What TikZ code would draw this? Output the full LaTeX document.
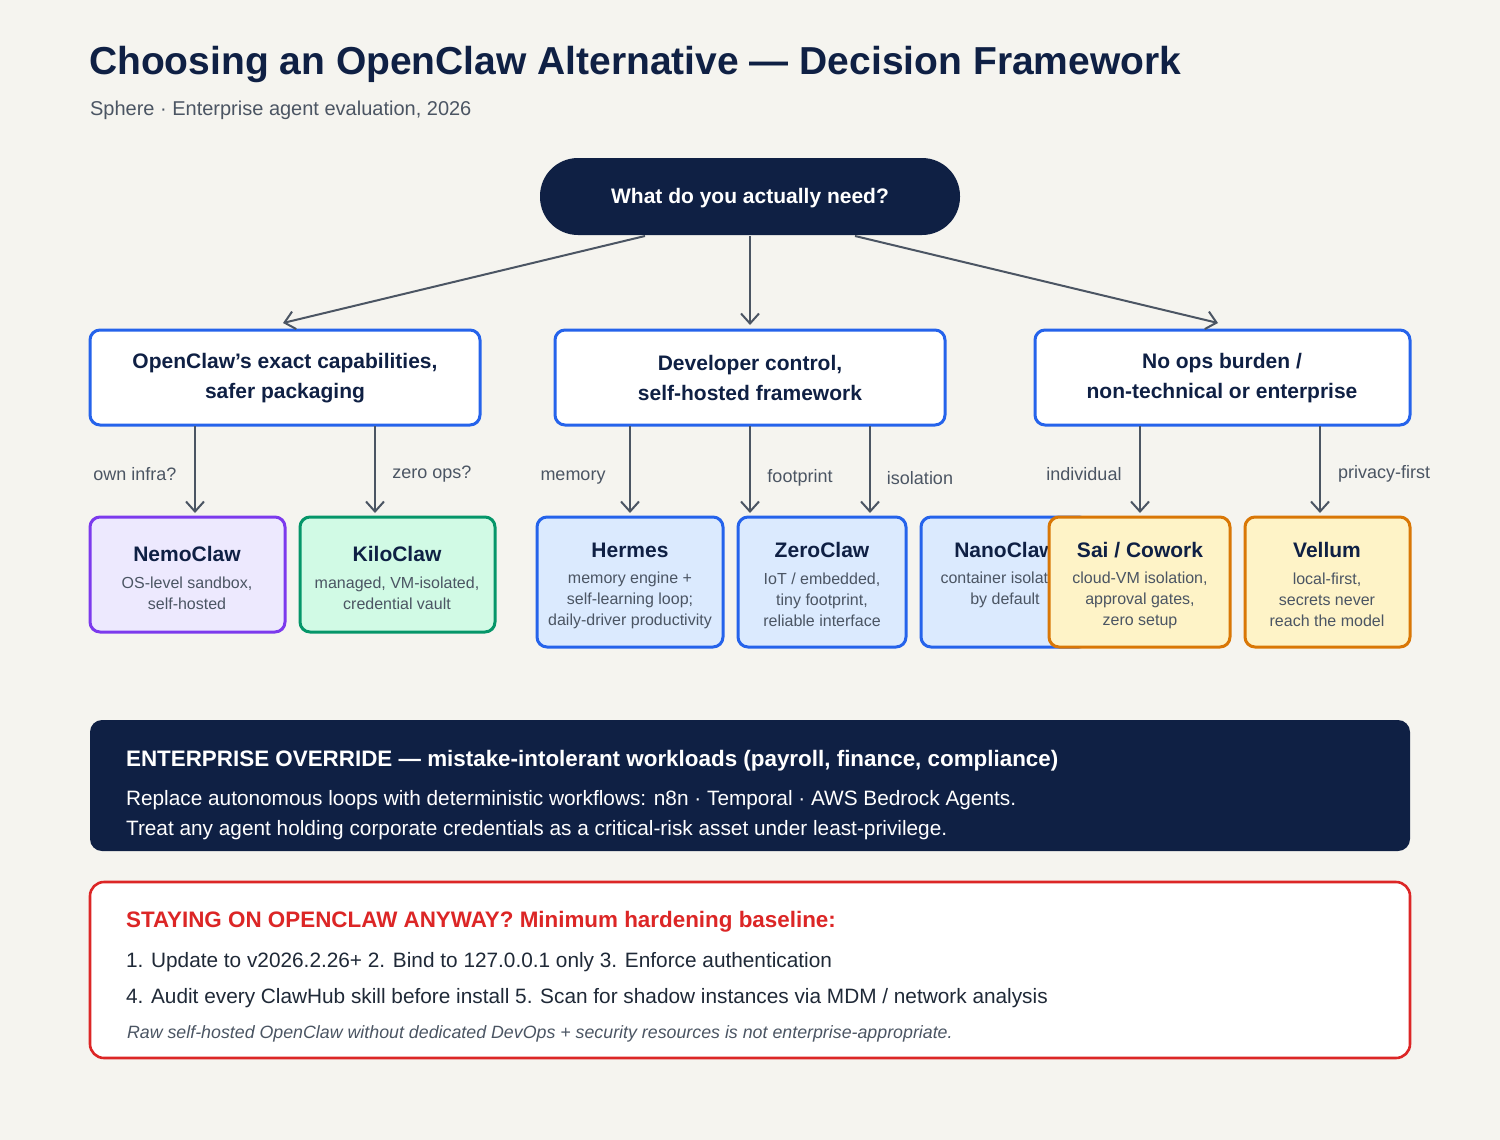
\documentclass[tikz,border=0pt]{standalone}
\usepackage{fontspec}
\setmainfont{Liberation Sans}
\usetikzlibrary{arrows.meta}
\definecolor{bg}{HTML}{F5F4EF}
\definecolor{navy}{HTML}{0F2044}
\definecolor{bblue}{HTML}{2563EB}
\definecolor{fblue}{HTML}{DBEAFE}
\definecolor{bpur}{HTML}{7C3AED}
\definecolor{fpur}{HTML}{EDE9FE}
\definecolor{bgrn}{HTML}{059669}
\definecolor{fgrn}{HTML}{D1FAE5}
\definecolor{bora}{HTML}{D97706}
\definecolor{fora}{HTML}{FEF3C7}
\definecolor{arr}{HTML}{4B5563}
\definecolor{sub}{HTML}{4B5563}
\definecolor{red}{HTML}{DC2626}
\definecolor{txt}{HTML}{1F2937}
\begin{document}
\begin{tikzpicture}[x=0.5pt,y=-0.5pt,
 box/.style={draw=bblue,line width=1.5pt,rounded corners=5pt,fill=white},
 leaf/.style={line width=1.5pt,rounded corners=5pt},
 ar/.style={draw=arr,line width=1pt,-{Straight Barb[length=5pt,width=9pt]}},
 lab/.style={font=\fontsize{9}{11}\selectfont,text=sub},
 mt/.style={font=\fontsize{10.5}{15}\selectfont\bfseries,text=navy,align=center},
 lt/.style={font=\fontsize{10.5}{13}\selectfont\bfseries,text=navy},
 ls/.style={font=\fontsize{8}{10.5}\selectfont,text=sub,align=center}]
\fill[bg] (0,0) rectangle (1500,1140);
\node[anchor=west,font=\fontsize{19.5}{22}\selectfont\bfseries,text=navy] (title) at (82,65) {Choosing an OpenClaw Alternative — Decision Framework};
\node[anchor=west,font=\fontsize{10}{12}\selectfont,text=sub] (subt) at (83,110) {Sphere · Enterprise agent evaluation, 2026};
\fill[navy,rounded corners=19pt] (540,158) rectangle (960,235);
\node[font=\fontsize{10.5}{12}\selectfont\bfseries,text=white] (top) at (750,198) {What do you actually need?};
\coordinate (t1) at (645,236); \coordinate (t2) at (750,236); \coordinate (t3) at (855,236);
% mid boxes
\draw[box] (90,330) rectangle (480,425);
\node[mt] (ma) at (285,378) {OpenClaw’s exact capabilities,\\safer packaging};
\draw[box] (555,330) rectangle (945,425);
\node[mt] (mb) at (750,378) {Developer control,\\self-hosted framework};
\draw[box] (1035,330) rectangle (1410,425);
\node[mt] (mc) at (1222,378) {No ops burden /\\non-technical or enterprise};
\coordinate (a1) at (283,323); \coordinate (b1) at (750,325); \coordinate (c1) at (1218,323);
\draw[ar] (t1) -- (a1); \draw[ar] (t2) -- (b1); \draw[ar] (t3) -- (c1);
% leaves
\draw[leaf,draw=bpur,fill=fpur] (90,517) rectangle (285,632);
\node[lt] (nemo) at (187,554) {NemoClaw};
\node[ls] (nemos) at (187,593) {OS-level sandbox,\\self-hosted};
\draw[leaf,draw=bgrn,fill=fgrn] (300,517) rectangle (495,632);
\node[lt] (kilo) at (397,554) {KiloClaw};
\node[ls] (kilos) at (397,593) {managed, VM-isolated,\\credential vault};
\draw[leaf,draw=bblue,fill=fblue] (537,517) rectangle (723,647);
\node[lt] (herm) at (630,550) {Hermes};
\node[ls] (herms) at (630,600) {memory engine +\\self-learning loop;\\daily-driver productivity};
\draw[leaf,draw=bblue,fill=fblue] (738,517) rectangle (906,647);
\node[lt] (zero) at (822,550) {ZeroClaw};
\node[ls] (zeros) at (822,600) {IoT / embedded,\\tiny footprint,\\reliable interface};
\draw[leaf,draw=bblue,fill=fblue] (921,517) rectangle (1089,647);
\node[lt] (nano) at (1005,550) {NanoClaw};
\node[ls] (nanos) at (1005,590) {container isolation\\by default};
\draw[leaf,draw=bora,fill=fora] (1049,517) rectangle (1230,647);
\node[lt] (sai) at (1140,550) {Sai / Cowork};
\node[ls] (sais) at (1140,600) {cloud-VM isolation,\\approval gates,\\zero setup};
\draw[leaf,draw=bora,fill=fora] (1245,517) rectangle (1410,647);
\node[lt] (vel) at (1327,550) {Vellum};
\node[ls] (vels) at (1327,600) {local-first,\\secrets never\\reach the model};
% leaf arrows
\foreach \x/\y/\e in {195/426/513,375/426/513,630/426/513,750/426/513,870/426/513,1140/426/513,1320/426/513}{
 \coordinate (s\x) at (\x,\y); \coordinate (e\x) at (\x,\e); \draw[ar] (s\x) -- (e\x);}
\node[lab] (l1) at (135,474) {own infra?};
\node[lab] (l2) at (432,474) {zero ops?};
\node[lab] (l3) at (573,478) {memory};
\node[lab] (l4) at (800,478) {footprint};
\node[lab] (l5) at (920,478) {isolation};
\node[lab] (l6) at (1084,474) {individual};
\node[lab] (l7) at (1384,474) {privacy-first};
% enterprise
\fill[navy,rounded corners=6pt] (90,720) rectangle (1410,851);
\node[anchor=west,font=\fontsize{11.2}{13}\selectfont\bfseries,text=white] (e1) at (119,761) {ENTERPRISE OVERRIDE — mistake-intolerant workloads (payroll, finance, compliance)};
\node[anchor=west,font=\fontsize{10.4}{12}\selectfont,text=white] (e2) at (119,800) {Replace autonomous loops with deterministic workflows: n8n · Temporal · AWS Bedrock Agents.};
\node[anchor=west,font=\fontsize{10.4}{12}\selectfont,text=white] (e3) at (119,830) {Treat any agent holding corporate credentials as a critical-risk asset under least-privilege.};
% red box
\draw[draw=red,fill=white,line width=1.3pt,rounded corners=7pt] (90,882) rectangle (1410,1058);
\node[anchor=west,font=\fontsize{11.2}{13}\selectfont\bfseries,text=red] (r1) at (119,922) {STAYING ON OPENCLAW ANYWAY? Minimum hardening baseline:};
\node[anchor=west,font=\fontsize{10.4}{12}\selectfont,text=txt] (r2) at (119,962) {1. Update to v2026.2.26+ 2. Bind to 127.0.0.1 only 3. Enforce authentication};
\node[anchor=west,font=\fontsize{10.4}{12}\selectfont,text=txt] (r3) at (119,998) {4. Audit every ClawHub skill before install 5. Scan for shadow instances via MDM / network analysis};
\node[anchor=west,font=\fontsize{8.9}{10}\selectfont\itshape,text=sub] (r4) at (120,1034) {Raw self-hosted OpenClaw without dedicated DevOps + security resources is not enterprise-appropriate.};
\end{tikzpicture}
\end{document}
